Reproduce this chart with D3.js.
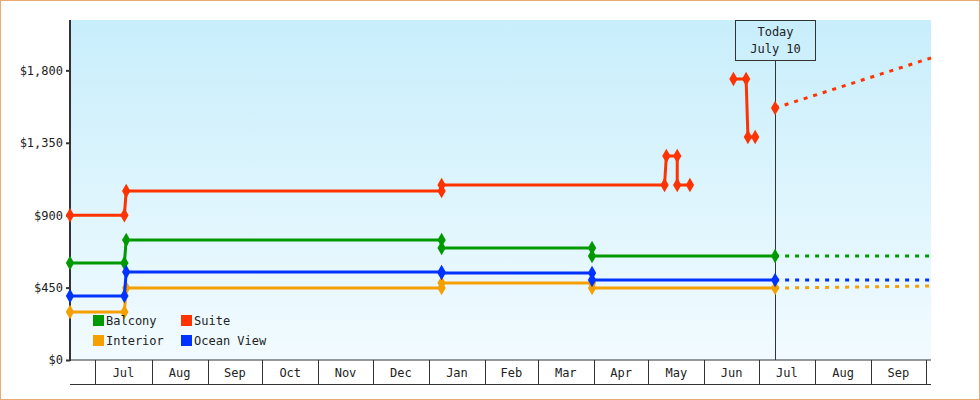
<!DOCTYPE html>
<html><head><meta charset="utf-8">
<script src="https://cdn.jsdelivr.net/npm/d3@7"></script>
<style>body{margin:0;background:#fff}svg{display:block}text{font-family:"DejaVu Sans Mono",monospace;font-size:12px;fill:#222}</style>
</head><body><svg id="c" width="980" height="400"></svg>
<script>
const seriesNames = ["Balcony","Suite","Interior","Ocean View"];
const colors = ["#009900","#ff3300","#f5a000","#0033ff"];
const suite = [["2023-06-17",900],["2023-07-17",900],["2023-07-18",1050],["2024-01-08",1050],["2024-01-08",1088],["2024-05-10",1088],["2024-05-11",1268],["2024-05-17",1268],["2024-05-17",1088],["2024-05-24",1088]];
const suite2 = [["2024-06-17",1746],["2024-06-24",1746],["2024-06-25",1386],["2024-06-29",1386]];
const suiteToday = [["2024-07-10",1566]];
const suiteForecast = [["2024-07-10",1566],["2024-10-04",1877]];
const balcony = [["2023-06-17",603],["2023-07-17",603],["2023-07-18",746],["2024-01-08",746],["2024-01-08",696],["2024-03-31",696],["2024-03-31",646],["2024-07-10",646]];
const balconyForecast = [["2024-07-10",646],["2024-10-04",646]];
const ocean = [["2023-06-17",398],["2023-07-17",398],["2023-07-18",547],["2024-01-08",547],["2024-01-08",541],["2024-03-31",541],["2024-03-31",497],["2024-07-10",497]];
const oceanForecast = [["2024-07-10",497],["2024-10-04",497]];
const interior = [["2023-06-17",298],["2023-07-17",298],["2023-07-18",447],["2024-01-08",447],["2024-01-08",479],["2024-03-31",479],["2024-03-31",447],["2024-07-10",447]];
const interiorForecast = [["2024-07-10",447],["2024-10-04",460]];
const yTicks = [0,450,900,1350,1800];
const monthTicks = ["2023-07-01","2023-08-01","2023-09-01","2023-10-01","2023-11-01","2023-12-01","2024-01-01","2024-02-01","2024-03-01","2024-04-01","2024-05-01","2024-06-01","2024-07-01","2024-08-01","2024-09-01","2024-10-01"];
const todayDate = "2024-07-10";

const P = d3.timeParse("%Y-%m-%d");
const svg = d3.select("#c");
const L=70,R=931,T=20,B=360;
const x = d3.scaleTime().domain([P("2023-06-17"),P("2024-10-04")]).range([L,R]);
const y = d3.scaleLinear().domain([0,2113]).range([B,T]);

svg.append("rect").attr("x",0.5).attr("y",0.5).attr("width",979).attr("height",399).attr("fill","#fff").attr("stroke","#e8aa70");
const g = svg.append("defs").append("linearGradient").attr("id","bg").attr("x1",0).attr("x2",0).attr("y1",0).attr("y2",1);
g.append("stop").attr("offset","0").attr("stop-color","#c8eefb");
g.append("stop").attr("offset","1").attr("stop-color","#f2fbff");
svg.append("rect").attr("x",L).attr("y",T).attr("width",R-L).attr("height",B-T).attr("fill","url(#bg)");

// y axis
svg.append("g").attr("transform",`translate(${L},0)`)
  .call(d3.axisLeft(y).tickValues(yTicks).tickSize(4).tickFormat(d=>"$"+d3.format(",")(d)))
  .call(a=>{a.select(".domain").remove();a.selectAll("line").attr("stroke","#333").attr("stroke-width",2);a.selectAll("text").attr("font-size",13).attr("fill","#222").style("font-family","DejaVu Sans Mono");});
svg.append("line").attr("x1",L).attr("x2",L).attr("y1",T).attr("y2",B+1).attr("stroke","#333").attr("stroke-width",2);

// x axis boxes
const months = monthTicks.map(P);
const xa = svg.append("g");
xa.append("line").attr("x1",L).attr("x2",R).attr("y1",B).attr("y2",B).attr("stroke","#333");
xa.append("line").attr("x1",L).attr("x2",R).attr("y1",384.5).attr("y2",384.5).attr("stroke","#333");
months.forEach((m,i)=>{
  const px=Math.round(x(m))+0.5;
  xa.append("line").attr("x1",px).attr("x2",px).attr("y1",B).attr("y2",384).attr("stroke","#333");
  const next = i<months.length-1? x(months[i+1]) : R+20;
  if(i<months.length-1 || true){
    const cx = i<months.length-1 ? (x(m)+next)/2 : (x(m)+x(d3.timeMonth.offset(m,1)))/2;
    if(cx<R) xa.append("text").attr("x",cx).attr("y",377).attr("text-anchor","middle").text(d3.timeFormat("%b")(m));
  }
});

// today
const tx = Math.round(x(P(todayDate)))+0.5;
svg.append("line").attr("x1",tx).attr("x2",tx).attr("y1",60).attr("y2",B).attr("stroke","#333");
svg.append("rect").attr("x",tx-40).attr("y",20.5).attr("width",80).attr("height",40).attr("fill","none").attr("stroke","#333");
svg.append("text").attr("x",tx).attr("y",36).attr("text-anchor","middle").text("Today");
svg.append("text").attr("x",tx).attr("y",53).attr("text-anchor","middle").text("July 10");

const line = d3.line().x(d=>x(P(d[0]))).y(d=>y(d[1]));
function draw(data,color,dashed,markers){
  svg.append("path").attr("d",line(data)).attr("fill","none").attr("stroke",color).attr("stroke-width",3)
    .attr("stroke-dasharray",dashed?"4,6":null);
  if(markers) svg.selectAll(null).data(data).enter().append("path")
    .attr("d",d3.symbol(d3.symbolDiamond,60)()).attr("transform",d=>`translate(${x(P(d[0]))},${y(d[1])})`).attr("fill",color);
}
draw(interiorForecast,colors[2],true,false);
draw(oceanForecast,colors[3],true,false);
draw(balconyForecast,colors[0],true,false);
draw(suiteForecast,colors[1],true,false);
draw(interior,colors[2],false,true);
draw(balcony,colors[0],false,true);
draw(ocean,colors[3],false,true);
draw(suite,colors[1],false,true);
draw(suite2,colors[1],false,true);
draw(suiteToday,colors[1],false,true);

// legend
const lg=[[93,315],[181,315],[93,335],[181,335]];
seriesNames.forEach((n,i)=>{
  svg.append("rect").attr("x",lg[i][0]).attr("y",lg[i][1]).attr("width",11).attr("height",11).attr("fill",colors[i]);
  svg.append("text").attr("x",lg[i][0]+13).attr("y",lg[i][1]+10).attr("font-size",13).text(n);
});
</script></body></html>
